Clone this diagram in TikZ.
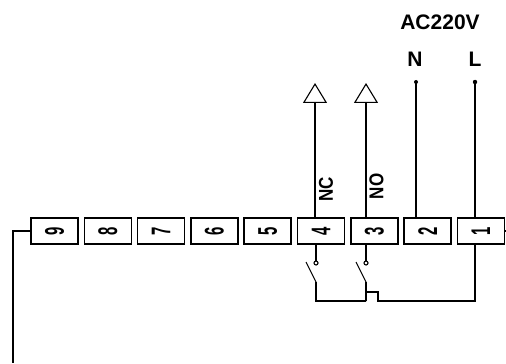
\documentclass[tikz,border=0pt]{standalone}
\usepackage{fontspec}
\setmainfont{Liberation Sans}
\usepackage{graphicx}
\newcommand{\tnum}[1]{\rotatebox{90}{\scalebox{0.55}[1]{#1}}}
\newcommand{\narrow}[1]{\scalebox{0.85}[1]{#1}}
\usetikzlibrary{arrows.meta}
\usetikzlibrary{positioning}

\tikzset{
  terminal/.style={draw, line width=0.75pt, minimum width=23.5pt,
    minimum height=13pt, inner sep=0pt,
    font=\bfseries\fontsize{13.5}{14}\selectfont},
  wire/.style={line width=0.55pt},
  lbl/.style={inner sep=0pt, font=\bfseries\fontsize{10.5}{12}\selectfont},
  relay/.style={wire, -{Triangle[open, length=10pt, width=12pt]}}
}

\begin{document}
\begin{tikzpicture}[x=0.5pt, y=-0.5pt] % pixel grid, y down

      \useasboundingbox (0, 0) rectangle (506, 363);

      % terminal block
      \node [terminal] (t9) at (54.5, 231) {\tnum{9}};
      \foreach \n [evaluate=\n as \p using int(\n+1)] in {8,...,1}
        \node [terminal, right=2.4pt of t\p] (t\n) {\tnum{\n}};

      % supply
      \node [lbl] (ac) at (440, 22.5) {AC220V};
      \node [lbl] (nlbl) at (415, 59.5) {N};
      \node [lbl] (llbl) at (475, 59.5) {L};
      \coordinate (ndot) at (416, 82);
      \coordinate (ldot) at (475, 82);
      \draw [wire] (ndot) -- (ndot |- t2.north);
      \draw [wire] (ldot) -- (ldot |- t1.north);
      \fill (ndot) circle (2);
      \fill (ldot) circle (2.2);

      % outputs
      \coordinate (nc) at (315, 83);
      \coordinate (no) at (366, 83);
      \draw [relay] (nc |- t4.north) -- (nc);
      \draw [relay] (no |- t3.north) -- (no);
      \node [lbl, rotate=90, font=\bfseries\fontsize{10}{12}\selectfont]
        (nclbl) at (326, 189.5) {\narrow{NC}};
      \node [lbl, rotate=90, font=\bfseries\fontsize{10}{12}\selectfont]
        (nolbl) at (376.5, 186.5) {\narrow{NO}};

      % contacts
      \coordinate (k4) at (316, 263);
      \coordinate (b4) at (316, 282);
      \coordinate (k3) at (366, 263);
      \coordinate (b3) at (366, 282);
      \coordinate (j3) at (366, 301);
      \draw [wire] (t4.south -| k4) -- (k4);
      \draw [wire] (t3.south -| k3) -- (k3);
      \draw [wire] (306, 262) -- (b4);
      \draw [wire] (356, 262) -- (b3);
      \draw [wire, fill=white] (k4) circle (2);
      \draw [wire, fill=white] (k3) circle (2);
      \draw [wire] (b4) |- (j3);
      \draw [wire] (b3) -- (j3) -- ++(0, -9) -- ++(12, 0) -- ++(0, 9)
        -| (ldot |- t1.south);

      % ends
      \coordinate (lend) at (13, 363);
      \coordinate (rend) at (506, 231);
      \draw [wire] (t9.west) -| (lend);
      \draw [wire] (t1.east) -- (rend);

    \end{tikzpicture}
\end{document}
